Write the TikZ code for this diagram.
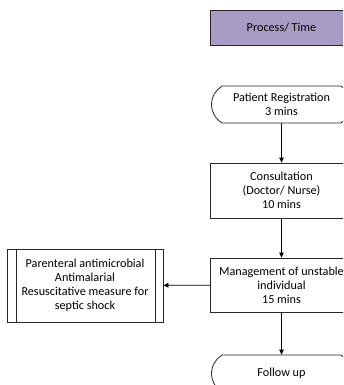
\documentclass[tikz,border=0pt]{standalone}
\usepackage{fontspec}
\setmainfont{Carlito}
\usetikzlibrary{shapes.misc,arrows.meta}
\definecolor{lav}{RGB}{168,156,196}
\begin{document}
\begin{tikzpicture}[x=1pt,y=-1pt,
  box/.style={draw=black!85,line width=0.8pt,align=center,inner sep=1pt,
    font=\fontsize{12.2}{14}\selectfont,minimum width=142pt},
  term/.style={box,rounded rectangle,rounded rectangle arc length=120,minimum height=37pt},
  conn/.style={draw=black,line width=0.8pt,-{Triangle[length=5pt,width=4.5pt]}}]
\useasboundingbox (0,0) rectangle (343,385);
\begin{scope}
\clip (0,0) rectangle (343,385);
\node[box,fill=lav,minimum height=35pt] (pt) at (281.5,27.5) {Process/ Time};
\node[term] (reg) at (281.5,104.5) {Patient Registration\\3 mins};
\node[box,minimum height=55pt] (cons) at (281.5,190.5) {Consultation\\(Doctor/ Nurse)\\10 mins};
\node[box,minimum height=54pt] (mgmt) at (281.5,285) {Management of unstable\\individual\\15 mins};
\node[box,minimum width=156pt,minimum height=73pt] (left) at (85,285.5) {Parenteral antimicrobial\\Antimalarial\\Resuscitative measure for\\septic shock};
\draw[line width=0.8pt,black!85] ([xshift=10pt]left.north west) -- ([xshift=10pt]left.south west)
  ([xshift=-8pt]left.north east) -- ([xshift=-8pt]left.south east);
\node[term] (fu) at (281.5,373.5) {Follow up};
\draw[conn] (reg) -- (cons);
\draw[conn] (cons) -- (mgmt);
\draw[conn] (mgmt) -- (left);
\draw[conn] (mgmt) -- (fu);
\end{scope}
\end{tikzpicture}
\end{document}
